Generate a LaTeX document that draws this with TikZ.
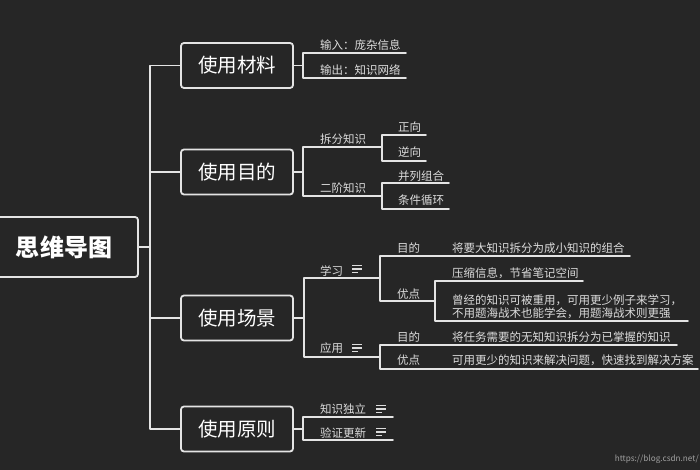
\documentclass[tikz,border=0pt]{standalone}
\usepackage{fontspec}
\setmainfont{Noto Sans CJK SC}
\newfontfamily\cjk{Noto Sans CJK SC}
\definecolor{bgc}{HTML}{262626}
\definecolor{linec}{HTML}{E4E4E4}
\definecolor{leafc}{HTML}{DCDCDC}
\definecolor{markc}{HTML}{A0A0A0}
\tikzset{
  conn/.style={draw=linec, line width=1.8pt, line cap=round, line join=round},
  iconline/.style={draw=leafc, line width=1.3pt},
  topic/.style={draw=linec, line width=1.8pt, rounded corners=3pt, minimum width=112pt,
    minimum height=45pt, inner sep=0pt, text=white, font=\cjk\fontsize{19.5}{19.5}\selectfont},
  rootbox/.style={draw=linec, line width=1.8pt, rounded corners=3pt, minimum width=148pt,
    minimum height=60pt, inner sep=0pt, text=white, font=\cjk\bfseries\fontsize{24}{24}\selectfont},
  leaf/.style={anchor=west, inner sep=0pt, text=leafc, font=\cjk\fontsize{11.5}{13.5}\selectfont},
  noteicon/.pic={
    \draw[iconline] (0,-3.3) -- (10,-3.3);
    \draw[iconline] (0,0) -- (10,0);
    \draw[iconline] (0,3.3) -- (6,3.3);
  }
}
\begin{document}
\begin{tikzpicture}[x=1pt,y=-1pt]
\fill[bgc] (0,0) rectangle (700,470);
\useasboundingbox (0,0) rectangle (700,470);

% root and main topics
\node[rootbox] (root) at (64,247) {思维导图};
\node[topic] (m1) at (237,65.5) {使用材料};
\node[topic] (m2) at (237,172) {使用目的};
\node[topic] (m3) at (237,318) {使用场景};
\node[topic] (m4) at (237,429) {使用原则};

\coordinate (sp) at (150,0);
\draw[conn] (m1.west) -| (sp|-m4.west) -- (m4.west);
\draw[conn] (root.east) -- (sp|-root.east);
\draw[conn] (m2.west) -- (sp|-m2.west);
\draw[conn] (m3.west) -- (sp|-m3.west);

% ---- 使用材料
\coordinate (j1) at (303,0);
\coordinate (a1e) at (406,53);
\coordinate (a2e) at (406,78);
\node[leaf] (a1) at (320,45) {输入：庞杂信息};
\node[leaf] (a2) at (320,70) {输出：知识网络};
\draw[conn] (m1.east) -- (j1|-m1.east);
\draw[conn] (a1e) -- (j1|-a1e) -- (j1|-a2e) -- (a2e);

% ---- 使用目的
\coordinate (b1e) at (382,147);
\coordinate (b2e) at (382,196);
\node[leaf] (b1) at (320,139) {拆分知识};
\node[leaf] (b2) at (320,188) {二阶知识};
\draw[conn] (m2.east) -- (j1|-m2.east);
\draw[conn] (b1e) -- (j1|-b1e) -- (j1|-b2e) -- (b2e);

\coordinate (c1e) at (426,135);
\coordinate (c2e) at (426,161);
\node[leaf] (c1) at (398,127) {正向};
\node[leaf] (c2) at (398,152) {逆向};
\draw[conn] (c1e) -- (b1e|-c1e) -- (b1e|-c2e) -- (c2e);

\coordinate (c3e) at (449,183);
\coordinate (c4e) at (449,209);
\node[leaf] (c3) at (398,176) {并列组合};
\node[leaf] (c4) at (398,200) {条件循环};
\draw[conn] (c3e) -- (b2e|-c3e) -- (b2e|-c4e) -- (c4e);

% ---- 使用场景
\coordinate (j3) at (304,0);
\coordinate (d1e) at (380,278);
\coordinate (d2e) at (380,357);
\node[leaf] (d1) at (320,271) {学习};
\node[leaf] (d2) at (320,348) {应用};
\pic at (352,269) {noteicon};
\pic at (352,348) {noteicon};
\draw[conn] (m3.east) -- (j3|-m3.east);
\draw[conn] (d1e) -- (j3|-d1e) -- (j3|-d2e) -- (d2e);

\coordinate (e1e) at (630,256);
\coordinate (e2e) at (435,301);
\node[leaf] (e1) at (397,248) {目的};
\node[leaf] (e1t) at (452,248) {将要大知识拆分为成小知识的组合};
\node[leaf] (e2) at (397,294) {优点};
\draw[conn] (e1e) -- (d1e|-e1e) -- (d1e|-e2e) -- (e2e);

\coordinate (f1e) at (583,281);
\coordinate (f2e) at (688,321);
\node[leaf] (f1) at (452,273) {压缩信息，节省笔记空间};
\node[leaf, align=left] (f2) at (452,306.5) {曾经的知识可被重用，可用更少例子来学习，\\不用题海战术也能学会，用题海战术则更强};
\draw[conn] (f1e) -- (e2e|-f1e) -- (e2e|-f2e) -- (f2e);

\coordinate (g1e) at (677,345);
\coordinate (g2e) at (698,369);
\node[leaf] (g1) at (397,337) {目的};
\node[leaf] (g1t) at (452,337) {将任务需要的无知知识拆分为已掌握的知识};
\node[leaf] (g2) at (397,360) {优点};
\node[leaf] (g2t) at (452,360) {可用更少的知识来解决问题，快速找到解决方案};
\draw[conn] (g1e) -- (d2e|-g1e) -- (d2e|-g2e) -- (g2e);

% ---- 使用原则
\coordinate (h1e) at (393,417);
\coordinate (h2e) at (393,440);
\node[leaf] (h1) at (320,409) {知识独立};
\node[leaf] (h2) at (320,433) {验证更新};
\pic at (376,409) {noteicon};
\pic at (376,432) {noteicon};
\draw[conn] (m4.east) -- (j1|-m4.east);
\draw[conn] (h1e) -- (j1|-h1e) -- (j1|-h2e) -- (h2e);

% watermark
\node[anchor=east, inner sep=0pt, text=markc, font=\cjk\fontsize{8.2}{9}\selectfont] (wm) at (699,459) {https://blog.csdn.net/};
\end{tikzpicture}
\end{document}
